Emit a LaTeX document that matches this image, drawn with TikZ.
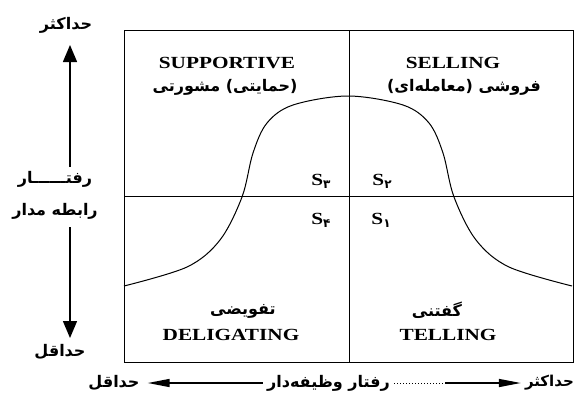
\documentclass[tikz,border=0pt]{standalone}
\usepackage{fontspec}
\setmainfont{Liberation Serif}
\newfontfamily\enfont[FakeStretch=1.25]{Liberation Serif}
\newfontfamily\fa[Script=Arabic]{DejaVu Sans}
\TeXXeTstate=1
\usetikzlibrary{arrows.meta}
\newcommand\Slbl[1]{S\raisebox{-3pt}{\fa\bfseries\fontsize{12}{12}\selectfont #1}}
\begin{document}
\begin{tikzpicture}[x=1pt,y=-1pt,
  en/.style={font=\enfont\fontsize{17}{17}\selectfont\bfseries, inner sep=0pt},
  fa/.style={font=\fa\bfseries\fontsize{16}{16}\selectfont, inner sep=0pt},
  frame/.style={draw, line width=1.3pt, inner sep=0pt},
  midline/.style={line width=0.9pt},
  curveline/.style={line width=1pt},
  vaxis/.style={line width=1.5pt, -{Triangle[length=17pt,width=14pt]}},
  haxis/.style={line width=1.5pt, -{Triangle[length=22pt,width=8pt]}}]
\useasboundingbox (0,0) rectangle (576,399);
% frame and quadrant lines
\node[frame, minimum width=449pt, minimum height=332pt, anchor=north west] (box) at (124,30) {};
\draw[midline] (box.north) -- (box.south);
\draw[midline] (box.west) -- (box.east);
% curve
\draw[curveline] plot[smooth, tension=0.55] coordinates {(124,286) (187,267) (220,240) (242,197) (253,153) (267,123) (293,105) (348,96) (403,105) (429,123) (443,153) (454,197) (476,240) (509,267) (572,286)};
% quadrant texts
\node[en] (sup) at (227,63) {SUPPORTIVE};
\node[fa] (supfa) at (225,87) {\beginR(حمایتی) مشورتی\endR};
\node[en] (sel) at (453,63) {SELLING};
\node[fa] (selfa) at (464,87) {\beginR فروشی (معامله‌ای)\endR};
\node[en] (s3) at (321,181) {\Slbl{۳}};
\node[en] (s2) at (382,181) {\Slbl{۲}};
\node[en] (s4) at (321,220) {\Slbl{۴}};
\node[en] (s1) at (381,220) {\Slbl{۱}};
\node[fa] (delfa) at (243,311) {\beginR تفویضی\endR};
\node[en] (del) at (231,335) {DELIGATING};
\node[fa] (telfa) at (437,310) {\beginR گفتنی\endR};
\node[en] (tel) at (448,335) {TELLING};
% vertical axis
\node[fa] (ymax) at (66,25) {\beginR حداکثر\endR};
\node[fa] (yl1) at (55,179) {\beginR رفتــــــار\endR};
\node[fa] (yl2) at (55,211) {\beginR رابطه مدار\endR};
\node[fa] (ymin) at (60,352) {\beginR حداقل\endR};
\coordinate (ytop) at (70,45);
\coordinate (ybot) at (70,338);
\draw[vaxis] (yl1.north -| ytop) ++(0,-4) -- (ytop);
\draw[vaxis] (yl2.south -| ybot) ++(0,8) -- (ybot);
% horizontal axis
\node[fa] (xmin) at (114,383) {\beginR حداقل\endR};
\node[fa, anchor=east] (xlbl) at (390,383) {\beginR رفتار وظیفه‌دار\endR};
\node[fa, anchor=east, font=\fa\bfseries\fontsize{15}{15}\selectfont] (xmax) at (574,383) {\beginR حداکثر\endR};
\coordinate (dotend) at (445,383);
\draw[haxis, shorten >=8pt, shorten <=4pt] (xlbl.west) -- (xmin.east);
\draw[line width=1pt, dotted, shorten <=4pt] (xlbl.east) -- (dotend);
\draw[haxis, shorten >=4pt] (dotend) -- (xmax.west);
\end{tikzpicture}
\end{document}
